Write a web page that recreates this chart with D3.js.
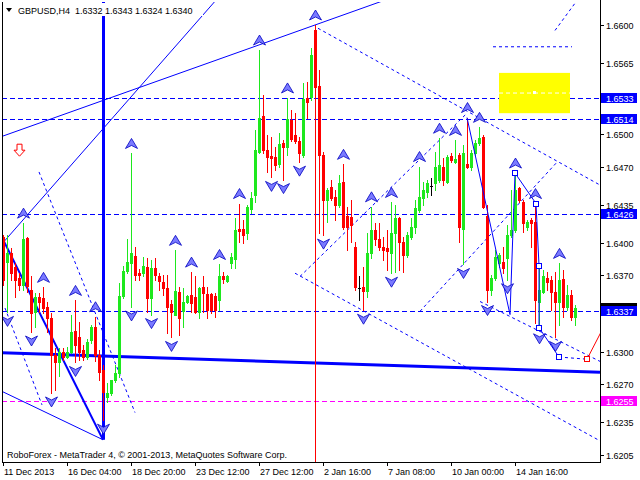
<!DOCTYPE html>
<html><head><meta charset="utf-8">
<script src="https://cdn.jsdelivr.net/npm/d3@7/dist/d3.min.js"></script>
<style>
html,body{margin:0;padding:0;background:#fff;}
svg{display:block;}
text{font-family:"Liberation Sans",Arial,sans-serif;font-size:9px;}
</style>
</head><body>
<svg id="c" width="640" height="480"></svg>
<script>
// ---------- DATA ----------
const symbol = "GBPUSD,H4";
const lastOHLC = ["1.6332","1.6343","1.6324","1.6340"];
const opens=[
1.6405,1.6382,1.6391,1.6378,1.6368,1.6361,1.6404,1.6357,1.6336,1.6350,
1.6349,1.6341,1.6331,1.6297,1.6290,1.6300,1.6295,1.6300,1.6319,1.6313,
1.6301,1.6295,1.6311,1.6323,1.6297,1.6283,1.6258,1.6262,1.6274,1.6280,
1.6351,1.6374,1.6381,1.6388,1.6372,1.6372,1.6378,1.6349,1.6377,1.6369,
1.6364,1.6358,1.6344,1.6334,1.6355,1.6337,1.6346,1.6352,1.6350,1.6336,
1.6359,1.6353,1.6353,1.6351,1.6347,1.6369,1.6365,1.6381,1.6385,1.6413,
1.6413,1.6409,1.6431,1.6444,1.6483,1.6516,1.6485,1.6480,1.6479,1.6472,
1.6492,1.6488,1.6513,1.6499,1.6493,1.6481,1.6533,1.6534,1.6595,1.6544,
1.6481,1.6439,1.6451,1.6442,1.6435,1.6456,1.6425,1.6424,1.6396,1.6358,
1.6359,1.6356,1.6391,1.6412,1.6403,1.6396,1.6395,1.6391,1.6409,1.6423,
1.6401,1.6389,1.6405,1.6414,1.6430,1.6441,1.6447,1.6452,1.6455,1.6458,
1.6470,1.6456,1.6480,1.6474,1.6481,1.6413,1.6472,1.6470,1.6482,1.6492,
1.6497,1.6425,1.6357,1.6368,1.6381,1.6382,1.6386,1.6407,1.6412,1.6450,
1.6437,1.6414,1.6421,1.6419,1.6346,1.6355,1.6368,1.6366,1.6355,1.6346,
1.6367,1.6341,1.6352,1.6332];
const highs=[
1.6407,1.6407,1.6395,1.6381,1.6372,1.6418,1.6405,1.6369,1.6354,1.6354,
1.6359,1.6346,1.6335,1.6303,1.6303,1.6303,1.6304,1.6334,1.6347,1.6327,
1.6306,1.6312,1.6324,1.6332,1.6301,1.6288,1.6271,1.6269,1.6288,1.6363,
1.6379,1.6403,1.6482,1.6396,1.6376,1.6387,1.6386,1.6384,1.6386,1.6372,
1.6370,1.6370,1.6347,1.6393,1.6359,1.6358,1.6352,1.6373,1.6369,1.6359,
1.6369,1.6359,1.6354,1.6354,1.6380,1.6373,1.6370,1.6391,1.6423,1.6436,
1.6421,1.6435,1.6447,1.6504,1.6577,1.6536,1.6499,1.6497,1.6488,1.6501,
1.6494,1.6533,1.6522,1.6519,1.6497,1.6547,1.6548,1.6579,1.6600,1.6559,
1.6483,1.6450,1.6458,1.6448,1.6462,1.6472,1.6433,1.6439,1.6401,1.6369,
1.6378,1.6409,1.6433,1.6418,1.6418,1.6405,1.6412,1.6437,1.6435,1.6424,
1.6405,1.6410,1.6423,1.6439,1.6470,1.6456,1.6458,1.6459,1.6483,1.6496,
1.6478,1.6481,1.6482,1.6494,1.6482,1.6490,1.6515,1.6485,1.6494,1.6506,
1.6499,1.6435,1.6370,1.6393,1.6391,1.6396,1.6416,1.6448,1.6464,1.6451,
1.6439,1.6421,1.6423,1.6436,1.6378,1.6375,1.6373,1.6369,1.6373,1.6381,
1.6375,1.6361,1.6357,1.6343];
const lows=[
1.6361,1.6336,1.6366,1.6350,1.6357,1.6357,1.6355,1.6318,1.6323,1.6336,
1.6335,1.6318,1.6262,1.6265,1.6278,1.6292,1.6294,1.6299,1.6290,1.6292,
1.6292,1.6293,1.6308,1.6291,1.6274,1.6237,1.6254,1.6260,1.6272,1.6277,
1.6349,1.6372,1.6341,1.6366,1.6366,1.6369,1.6336,1.6334,1.6366,1.6357,
1.6352,1.6317,1.6313,1.6334,1.6315,1.6323,1.6345,1.6336,1.6335,1.6331,
1.6336,1.6331,1.6335,1.6332,1.6338,1.6363,1.6364,1.6377,1.6377,1.6401,
1.6400,1.6403,1.6427,1.6437,1.6482,1.6482,1.6465,1.6460,1.6467,1.6470,
1.6458,1.6481,1.6493,1.6492,1.6474,1.6479,1.6515,1.6531,1.6531,1.6409,
1.6407,1.6419,1.6439,1.6421,1.6433,1.6413,1.6393,1.6401,1.6357,1.6347,
1.6338,1.6350,1.6386,1.6398,1.6393,1.6384,1.6375,1.6372,1.6373,1.6375,
1.6373,1.6387,1.6403,1.6409,1.6428,1.6435,1.6442,1.6444,1.6448,1.6456,
1.6453,1.6455,1.6474,1.6473,1.6401,1.6380,1.6469,1.6467,1.6481,1.6490,
1.6432,1.6346,1.6352,1.6366,1.6378,1.6372,1.6366,1.6405,1.6410,1.6437,
1.6410,1.6412,1.6396,1.6326,1.6320,1.6354,1.6357,1.6338,1.6313,1.6324,
1.6332,1.6338,1.6329,1.6324];
const closes=[
1.6366,1.6391,1.6372,1.6366,1.6361,1.6403,1.6360,1.6335,1.6350,1.6346,
1.6340,1.6331,1.6297,1.6290,1.6300,1.6295,1.6300,1.6318,1.6306,1.6300,
1.6295,1.6309,1.6323,1.6297,1.6281,1.6263,1.6262,1.6274,1.6280,1.6351,
1.6374,1.6382,1.6391,1.6370,1.6370,1.6379,1.6349,1.6377,1.6370,1.6365,
1.6358,1.6341,1.6336,1.6356,1.6331,1.6346,1.6351,1.6345,1.6336,1.6358,
1.6354,1.6338,1.6338,1.6338,1.6369,1.6367,1.6369,1.6387,1.6412,1.6411,
1.6407,1.6433,1.6441,1.6485,1.6515,1.6485,1.6479,1.6478,1.6471,1.6491,
1.6488,1.6514,1.6495,1.6493,1.6482,1.6532,1.6529,1.6572,1.6543,1.6481,
1.6439,1.6448,1.6441,1.6435,1.6455,1.6414,1.6414,1.6416,1.6359,1.6358,
1.6356,1.6391,1.6412,1.6403,1.6396,1.6393,1.6392,1.6409,1.6423,1.6401,
1.6389,1.6407,1.6414,1.6432,1.6442,1.6448,1.6455,1.6452,1.6470,1.6471,
1.6458,1.6479,1.6476,1.6477,1.6414,1.6482,1.6470,1.6482,1.6492,1.6496,
1.6433,1.6357,1.6368,1.6387,1.6389,1.6377,1.6407,1.6412,1.6448,1.6439,
1.6418,1.6419,1.6418,1.6347,1.6357,1.6369,1.6364,1.6355,1.6346,1.6366,
1.6341,1.6352,1.6332,1.6340];
const xTickBars=[0,16,32,48,64,80,96,112,128];
const xTickLabels=["11 Dec 2013","16 Dec 04:00","18 Dec 20:00","23 Dec 12:00","27 Dec 12:00","2 Jan 16:00","7 Jan 08:00","10 Jan 00:00","14 Jan 16:00"];
const yTickValues=[1.6600,1.6565,1.6535,1.6500,1.6470,1.6435,1.6400,1.6370,1.6335,1.6300,1.6270,1.6235,1.6205];
const blueLevels=[1.6533,1.6514,1.6426,1.6337];
const magentaLevel=1.6255;
const bidPrice=1.6340;
// chart objects: [bar, price] anchors
const solidRays=[[[0,1.6498],[78,1.6600]],[[0,1.6400],[27,1.6513]]];
const solidSegs=[[[0,1.6263],[25,1.6219]]];
const thickSegs=[[[0,1.6403],[25,1.6219]]];
const vLineBar=25, vLineLow=1.6219;
const redVBar=78;
const bigTrend=[[0,1.6299],[149.25,1.6281]];
const dashedSegs=[
 [[9,1.6465],[33,1.6244]],
 [[0.5,1.6340],[9.75,1.6251]],
 [[78.75,1.6597],[149.25,1.6453]],
 [[73,1.6372],[149.25,1.6218]],
 [[74.25,1.6369],[116,1.6519]],
 [[104.25,1.6337],[138.5,1.6474]],
 [[119.25,1.6346],[149.25,1.6291]],
 [[122.5,1.6580],[142.25,1.6580]],
 [[138,1.6595],[143,1.6620]]
];
const zigzag=[[116,1.6515],[126.75,1.6334],[128,1.6464],[133.25,1.6436],[134,1.6379],[134,1.6322],[139,1.6295]];
const projTail=[[139,1.6295],[146,1.6293]];
const redLeg=[[146,1.6293],[150.5,1.6325]];
const yellowBox=[[124,1.6556],[141.75,1.6519]];
const signalBar=4, signalPrice=1.6485;
const copyright="RoboForex - MetaTrader 4, © 2001-2013, MetaQuotes Software Corp.";

// ---------- DRAW ----------
const svg=d3.select("#c");
const L=2,R=600,T=2,B=462;
const n=opens.length;
const x=d3.scaleLinear().domain([0,150]).range([3,603]);
const y=d3.scaleLinear().domain([1.6205,1.6600]).range([455,25]);
const P=(p)=>[x(p[0]),y(p[1])];

svg.append("rect").attr("width",640).attr("height",480).attr("fill","#fff");
svg.append("defs").append("clipPath").attr("id","clip").append("rect")
  .attr("x",L).attr("y",T).attr("width",R-L).attr("height",B-T);
const g=svg.append("g").attr("clip-path","url(#clip)");

const blue="#0000ff";
blueLevels.forEach(v=>{
  g.append("line").attr("x1",L).attr("x2",R).attr("y1",Math.round(y(v))+0.5).attr("y2",Math.round(y(v))+0.5)
   .attr("stroke",blue).attr("stroke-dasharray","5,3");
});
g.append("line").attr("x1",L).attr("x2",R).attr("y1",Math.round(y(magentaLevel))+0.5).attr("y2",Math.round(y(magentaLevel))+0.5)
 .attr("stroke","#ff00ff").attr("stroke-dasharray","5,3");

// yellow rectangle
{
 const a=P(yellowBox[0]), b=P(yellowBox[1]);
 g.append("rect").attr("x",a[0]).attr("y",a[1]).attr("width",b[0]-a[0]).attr("height",b[1]-a[1]).attr("fill","#ffff00");
 const mid=(a[1]+b[1])/2;
 g.append("line").attr("x1",a[0]).attr("x2",b[0]).attr("y1",mid).attr("y2",mid).attr("stroke","#fff").attr("stroke-dasharray","4,3");
 g.append("rect").attr("x",(a[0]+b[0])/2-1.5).attr("y",mid-2).attr("width",3).attr("height",3).attr("fill","#fff");
}

function extend(p1,p2,both){
  const [x1,y1]=P(p1),[x2,y2]=P(p2);
  const s=(y2-y1)/(x2-x1);
  const xa= both? -10 : x1, xb=700;
  return [[xa,y1+s*(xa-x1)],[xb,y1+s*(xb-x1)]];
}
solidRays.forEach((r,k)=>{
  const e=extend(r[0],r[1],k===0);
  g.append("line").attr("x1",e[0][0]).attr("y1",e[0][1]).attr("x2",e[1][0]).attr("y2",e[1][1]).attr("stroke",blue).attr("stroke-width",1);
});
solidSegs.forEach(s=>{
  const a=P(s[0]),b=P(s[1]);
  g.append("line").attr("x1",a[0]).attr("y1",a[1]).attr("x2",b[0]).attr("y2",b[1]).attr("stroke",blue);
});
thickSegs.forEach(s=>{
  const a=P(s[0]),b=P(s[1]);
  g.append("line").attr("x1",a[0]).attr("y1",a[1]).attr("x2",b[0]).attr("y2",b[1]).attr("stroke",blue).attr("stroke-width",2);
});
dashedSegs.forEach(s=>{
  const a=P(s[0]),b=P(s[1]);
  g.append("line").attr("x1",a[0]).attr("y1",a[1]).attr("x2",b[0]).attr("y2",b[1]).attr("stroke",blue).attr("stroke-dasharray","3,3");
});
g.append("line").attr("x1",Math.round(x(vLineBar))+0.5).attr("x2",Math.round(x(vLineBar))+0.5).attr("y1",T).attr("y2",y(vLineLow))
 .attr("stroke",blue).attr("stroke-width",3);
{
 const a=P(bigTrend[0]),b=P(bigTrend[1]);
 g.append("line").attr("x1",L).attr("y1",a[1]).attr("x2",R).attr("y2",b[1]).attr("stroke",blue).attr("stroke-width",3);
}
g.append("line").attr("x1",Math.round(x(redVBar))+0.5).attr("x2",Math.round(x(redVBar))+0.5).attr("y1",y(highs[redVBar])).attr("y2",B)
 .attr("stroke","#ff0000");

// candles
const bull="#1ee81e", bear="#ff0000";
for(let i=0;i<n;i++){
  const cx=Math.round(x(i));
  const col= closes[i]>opens[i]?bull:(closes[i]<opens[i]?bear:"#000");
  g.append("line").attr("x1",cx+0.5).attr("x2",cx+0.5).attr("y1",Math.round(y(highs[i]))).attr("y2",Math.round(y(lows[i]))+1).attr("stroke",col);
  const y1=Math.round(y(Math.max(opens[i],closes[i]))), y2=Math.round(y(Math.min(opens[i],closes[i])));
  if(col==="#000"){
    g.append("line").attr("x1",cx-1).attr("x2",cx+2).attr("y1",y1+0.5).attr("y2",y1+0.5).attr("stroke","#000");
  } else {
    g.append("rect").attr("x",cx-1).attr("y",y1).attr("width",3).attr("height",Math.max(1,y2-y1+1)).attr("fill",col);
  }
}

// zigzag projection
const lineGen=d3.line().x(d=>x(d[0])).y(d=>y(d[1]));
g.append("path").attr("d",lineGen(zigzag)).attr("fill","none").attr("stroke",blue);
g.append("path").attr("d",lineGen(projTail)).attr("fill","none").attr("stroke",blue).attr("stroke-dasharray","3,3");
g.append("path").attr("d",lineGen(redLeg)).attr("fill","none").attr("stroke","#ff0000");
zigzag.slice(2).forEach(p=>{
  g.append("rect").attr("x",Math.round(x(p[0]))-2.5).attr("y",Math.round(y(p[1]))-2.5).attr("width",5).attr("height",5).attr("fill","#fff").attr("stroke",blue);
});
g.append("rect").attr("x",Math.round(x(redLeg[0][0]))-2.5).attr("y",Math.round(y(redLeg[0][1]))-2.5).attr("width",5).attr("height",5).attr("fill","#fff").attr("stroke","#ff0000");

// fractals
function frac(arr,i,up){
  if(i+2>=n) return false;
  for(let j=i-2;j<=i+2;j++){
    if(j===i||j<0) continue;
    if(up ? arr[j]>=arr[i] : arr[j]<=arr[i]) return false;
  }
  return true;
}
const upPath="M0,-5L6,5L0,2L-6,5Z", dnPath="M0,5L6,-5L0,-2L-6,-5Z";
for(let i=0;i<n;i++){
  if(frac(highs,i,true)){
    g.append("path").attr("d",upPath).attr("transform",`translate(${Math.round(x(i))+0.5},${y(highs[i])-10})`)
     .attr("fill","#7a7aff").attr("stroke","#0000c0").attr("stroke-width",0.8);
  }
  if(frac(lows,i,false)){
    g.append("path").attr("d",dnPath).attr("transform",`translate(${Math.round(x(i))+0.5},${y(lows[i])+9})`)
     .attr("fill","#7a7aff").attr("stroke","#0000c0").attr("stroke-width",0.8);
  }
}
g.append("path").attr("d","M-2.5,-6H2.5V0H5.5L0,6L-5.5,0H-2.5Z")
 .attr("transform",`translate(${x(signalBar)+0.5},${y(signalPrice)})`).attr("fill","#fff").attr("stroke","#ff0000");

// frame
svg.append("line").attr("x1",L+0.5).attr("x2",L+0.5).attr("y1",T).attr("y2",B+1).attr("stroke","#000");
svg.append("line").attr("x1",R+0.5).attr("x2",R+0.5).attr("y1",0).attr("y2",B+1).attr("stroke","#000");
svg.append("line").attr("x1",L).attr("x2",R+1).attr("y1",B+0.5).attr("y2",B+0.5).attr("stroke","#000");

// right axis (tick labels hidden by level labels are not drawn)
const labelled=blueLevels.concat([magentaLevel,bidPrice]);
yTickValues.forEach(v=>{
  const yy=Math.round(y(v));
  svg.append("line").attr("x1",R).attr("x2",R+4).attr("y1",yy+0.5).attr("y2",yy+0.5).attr("stroke","#000");
  const hidden=labelled.some(l=>Math.abs(y(l)-y(v))<8);
  if(!hidden) svg.append("text").attr("x",606).attr("y",yy+3.5).attr("fill","#000").text(v.toFixed(4));
});
function priceLabel(v,bg,withText){
  const yy=Math.round(y(v));
  svg.append("rect").attr("x",601).attr("y",yy-5).attr("width",36).attr("height",10).attr("fill",bg);
  if(withText) svg.append("text").attr("x",606).attr("y",yy+3.5).attr("fill","#fff").text(v.toFixed(4));
}
priceLabel(bidPrice,"#000",false);
blueLevels.forEach(v=>priceLabel(v,"#0000ff",true));
priceLabel(magentaLevel,"#ff00ff",true);

// bottom axis
xTickBars.forEach((b,k)=>{
  const xx=Math.round(x(b));
  svg.append("line").attr("x1",xx+0.5).attr("x2",xx+0.5).attr("y1",B).attr("y2",B+4).attr("stroke","#000");
  svg.append("text").attr("x",xx+1).attr("y",475).attr("fill","#000").text(xTickLabels[k]);
});

// title
svg.append("rect").attr("x",3).attr("y",3).attr("width",200).attr("height",13).attr("fill","#fff");
svg.append("path").attr("d","M6,8H12L9,12Z").attr("fill","#000");
svg.append("text").attr("x",18).attr("y",13.5).attr("fill","#000").attr("xml:space","preserve")
 .text(symbol+"  "+lastOHLC.join(" "));
svg.append("text").attr("x",7).attr("y",458).attr("fill","#000").text(copyright);
</script>
</body></html>
